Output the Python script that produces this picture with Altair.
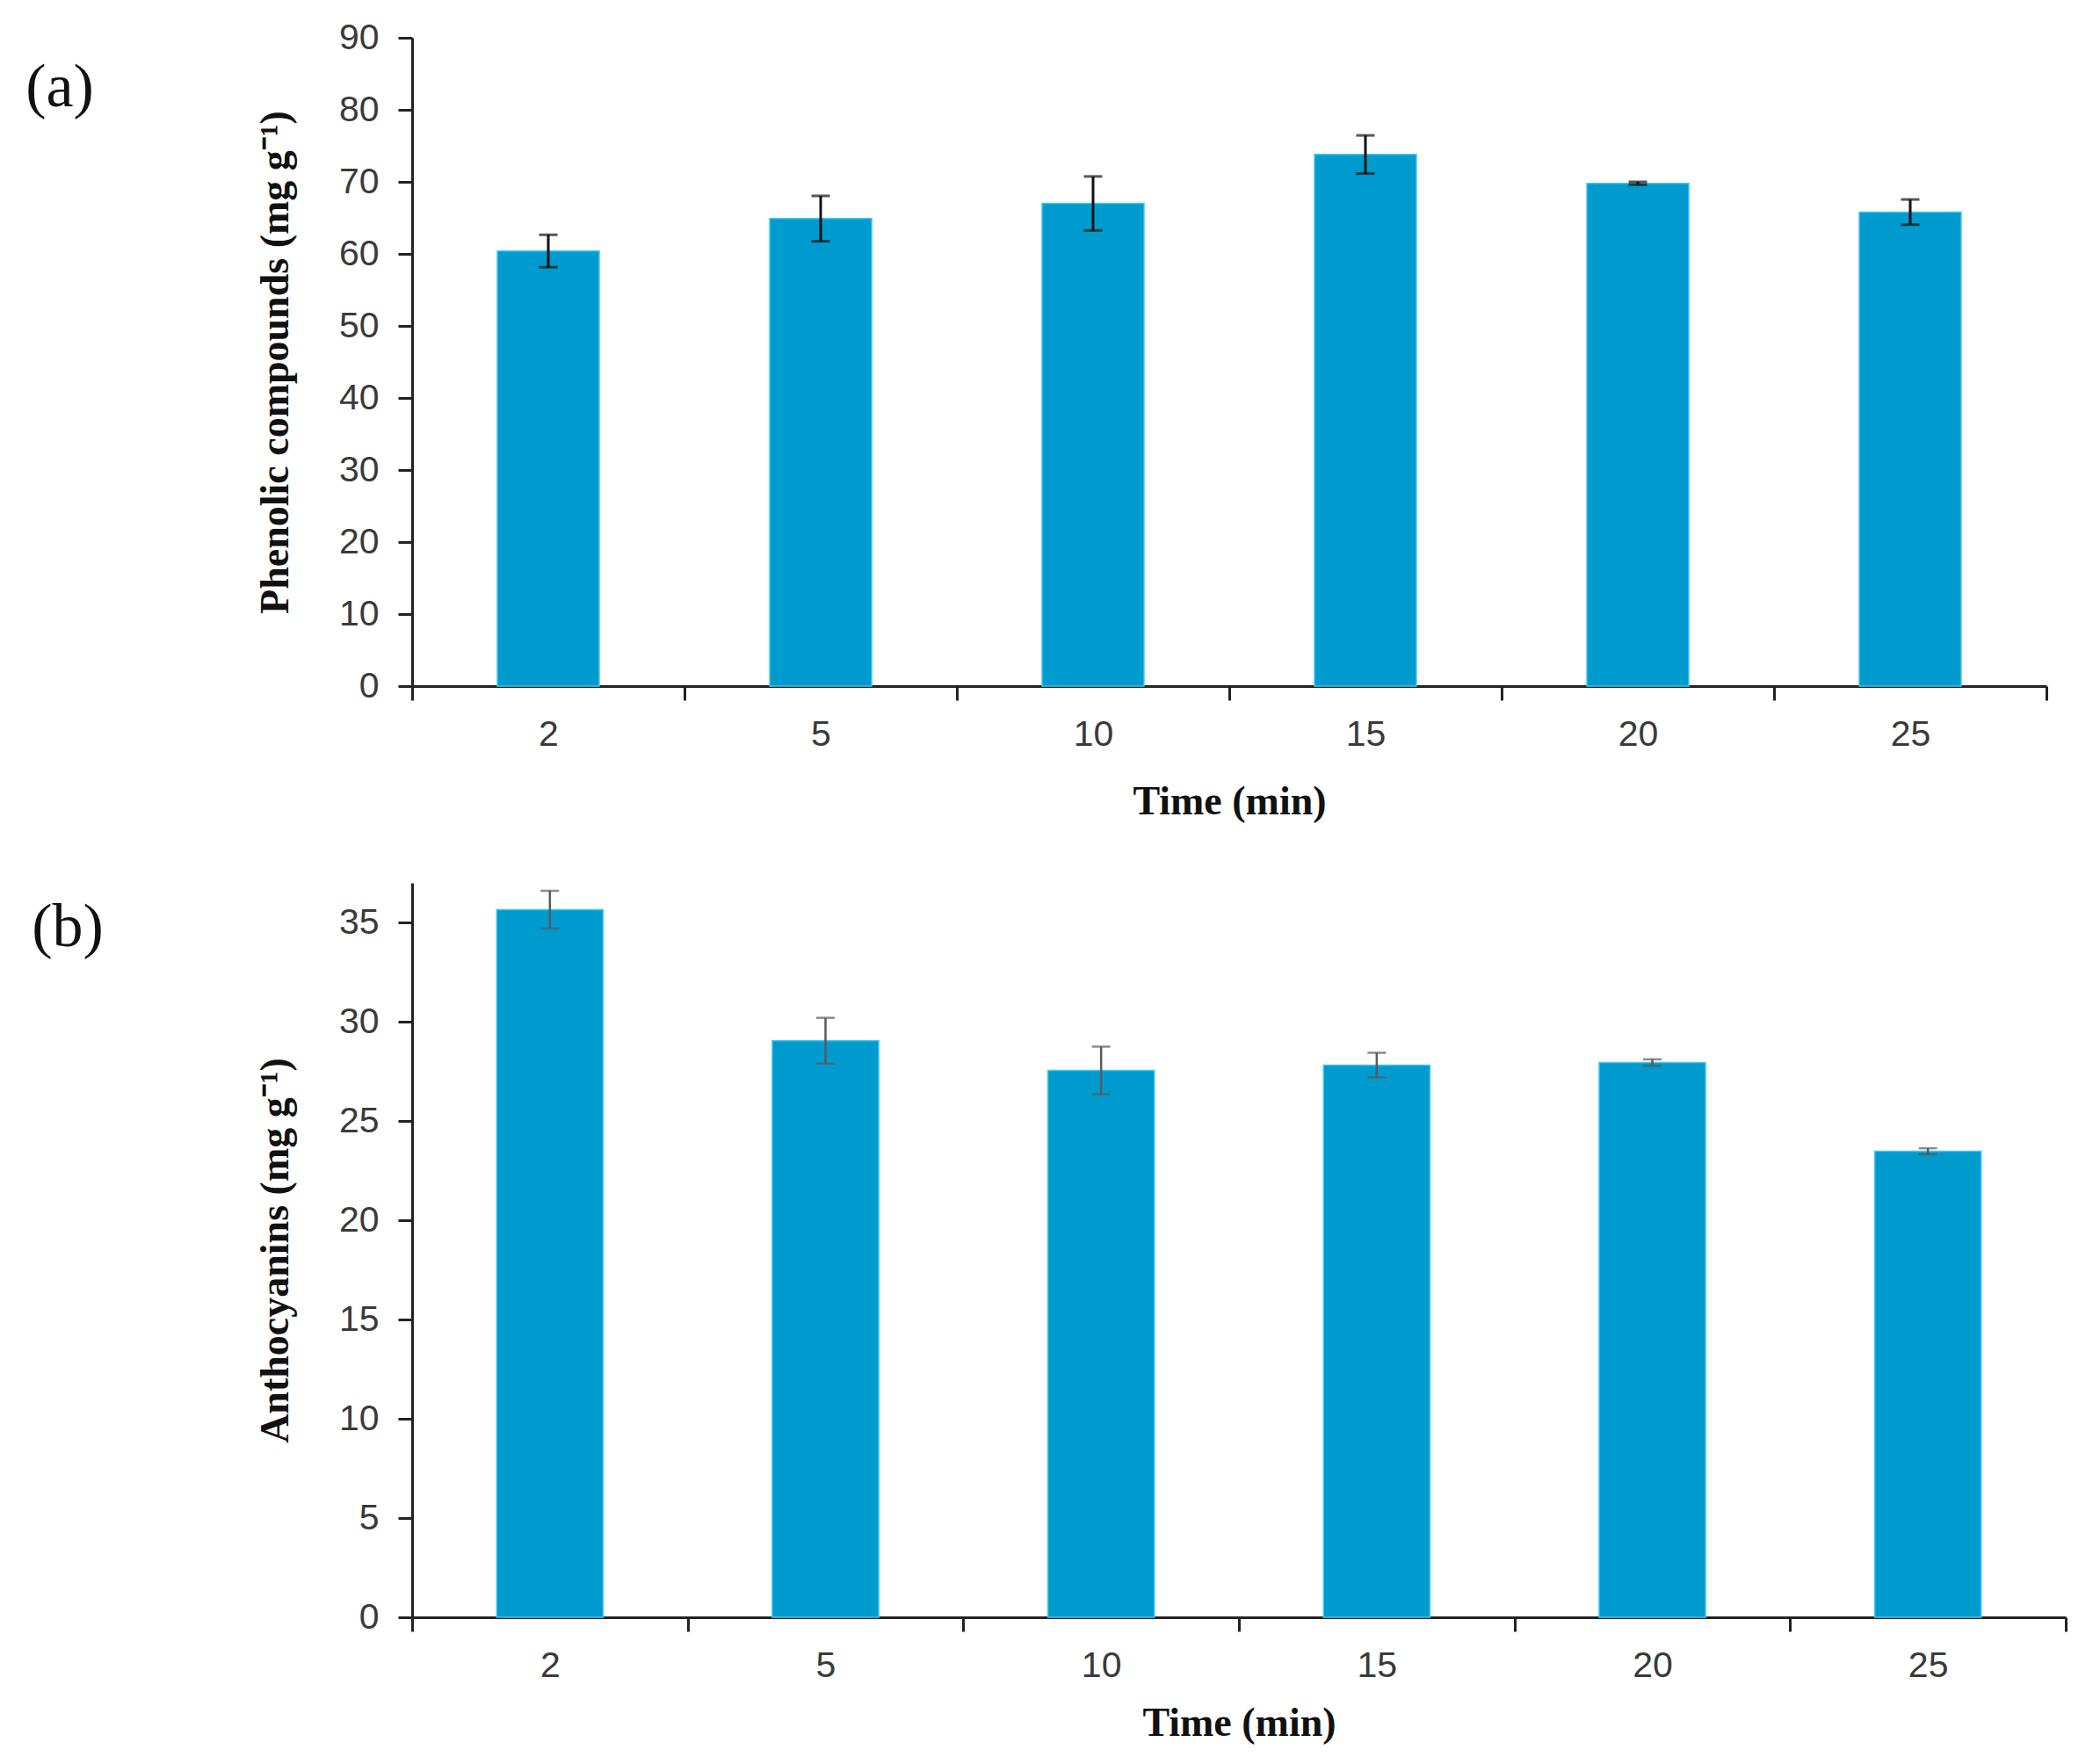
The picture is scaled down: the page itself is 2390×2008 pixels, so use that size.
import altair as alt
import pandas as pd

times = ["2", "5", "10", "15", "20", "25"]
phenolic = [60.4, 64.9, 67.0, 73.8, 69.8, 65.8]
phenolic_err = [2.25, 3.15, 3.75, 2.65, 0.2, 1.75]
antho = [35.65, 29.05, 27.55, 27.82, 27.95, 23.48]
antho_err = [0.95, 1.15, 1.2, 0.62, 0.16, 0.15]

phen_ticks = [0, 10, 20, 30, 40, 50, 60, 70, 80, 90]
antho_ticks = [0, 5, 10, 15, 20, 25, 30, 35]

BAR = "#009BCE"


def panel(vals, errs, ytitle, ymax, yticks, tag, w, h, errcolor, errw, tagx, tagy, band, xtitlepad):
    df = pd.DataFrame({
        "t": times,
        "v": vals,
        "lo": [v - e for v, e in zip(vals, errs)],
        "hi": [v + e for v, e in zip(vals, errs)],
    })
    xscale = alt.Scale(paddingInner=0, paddingOuter=0)
    xaxis = alt.Axis(tickBand="extent", labelAngle=0, labelPadding=19, titlePadding=xtitlepad)
    yscale = alt.Scale(domain=[0, ymax], nice=False, zero=True)
    yaxis = alt.Axis(values=yticks, labelPadding=22, titlePadding=48)

    def X():
        return alt.X("t:N", sort=times, title="Time (min)", scale=xscale, axis=xaxis)

    def Y(field):
        return alt.Y(field, title=ytitle, scale=yscale, axis=yaxis)

    base = alt.Chart(df)
    bars = base.mark_bar(width={"band": band}, color=BAR, stroke="#3CC6F0", strokeWidth=1.5).encode(
        x=X(), y=Y("v:Q"))
    rule = base.mark_rule(color=errcolor, strokeWidth=errw).encode(
        x=X(), y=Y("lo:Q"), y2="hi:Q")
    cap_lo = base.mark_tick(color=errcolor, size=21, thickness=errw).encode(x=X(), y=Y("lo:Q"))
    cap_hi = base.mark_tick(color=errcolor, size=21, thickness=errw).encode(x=X(), y=Y("hi:Q"))
    label = alt.Chart(pd.DataFrame({"tag": [tag]})).mark_text(
        font="Liberation Serif", fontSize=70, color="#111", align="center", baseline="middle"
    ).encode(text="tag:N", x=alt.value(tagx), y=alt.value(tagy))
    return alt.layer(bars, rule, cap_lo, cap_hi, label).properties(width=w, height=h)


a = panel(phenolic, phenolic_err, "Phenolic  compounds  (mg g\u207b\u00b9)", 90, phen_ticks, "(a)",
          1860, 738, "#111111", 3, -401, 57, 0.374, 34)
b = panel(antho, antho_err, "Anthocyanins  (mg g\u207b\u00b9)", 37, antho_ticks, "(b)",
          1882, 836, "#5a5a5a", 2.5, -392, 51, 0.386, 23)

chart = alt.vconcat(a, b, spacing=70).properties(
    padding={"left": 21, "top": 14, "right": 10, "bottom": 10}
).configure_view(stroke=None).configure_axis(
    grid=False,
    domainColor="#222222",
    domainWidth=3,
    tickColor="#222222",
    tickWidth=3,
    tickSize=16,
    labelFont="Liberation Sans",
    labelFontSize=41,
    labelColor="#3a3a3a",
    titleFont="Liberation Serif",
    titleFontWeight="bold",
    titleFontSize=46,
    titleColor="#111111",
)

chart.save("out.html", embed_options={"renderer": "svg", "actions": False})
